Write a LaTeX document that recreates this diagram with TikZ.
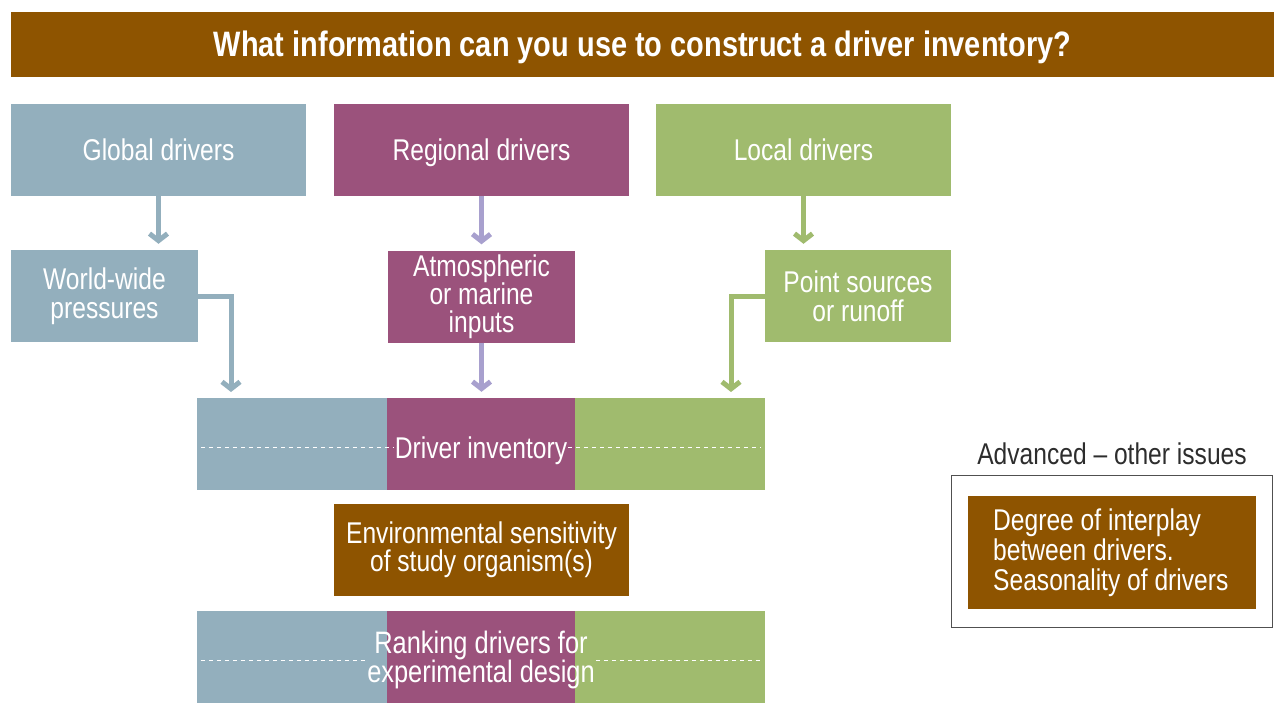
\documentclass[tikz,border=0pt]{standalone}
\usepackage{fontspec}
\setmainfont[FakeStretch=0.82]{Liberation Sans}
\usetikzlibrary{arrows.meta}
\definecolor{brn}{RGB}{142,84,0}
\definecolor{blu}{RGB}{147,175,189}
\definecolor{pur}{RGB}{155,82,124}
\definecolor{grn}{RGB}{160,187,110}
\definecolor{lav}{RGB}{168,160,206}
\definecolor{dgray}{RGB}{45,45,45}
\definecolor{bgray}{RGB}{80,80,80}
\begin{document}
\begin{tikzpicture}[x=1pt,y=-1pt,
  box/.style={fill=#1, text=white, inner sep=0pt, align=center,
    font=\fontsize{30}{30}\selectfont},
  one/.style={text height=22pt, text depth=0pt},
  bigbox/.style={box=#1, minimum width=295pt, minimum height=92pt},
  midbox/.style={box=#1, minimum width=187pt, minimum height=92pt},
  band/.style={fill=#1, inner sep=0pt, minimum height=92pt},
  lbl/.style={text=white, inner sep=1pt, align=center},
  flow/.style={draw=#1, line width=5pt, -{Straight Barb[length=7pt,width=18pt]}},
  dsh/.style={draw=white, line width=0.8pt, dash pattern=on 4pt off 4pt}
]
\useasboundingbox (0,0) rectangle (1274,722);

% title
\node[fill=brn, text=white, inner sep=0pt, minimum width=1263pt, minimum height=65pt,
  text height=25pt, text depth=0pt,
  font=\fontsize{35.3}{35}\selectfont\bfseries] (title) at (642.5,44.5)
  {What information can you use to construct a driver inventory?};

% top row
\node[bigbox=blu, one] (glob) at (158.5,150) {Global drivers};
\node[bigbox=pur, one] (reg) at (481.5,150) {Regional drivers};
\node[bigbox=grn, one] (loc) at (803.5,150) {Local drivers};

% second row
\node[midbox=blu, font=\fontsize{30}{29.5}\selectfont] (ww) at (104.5,296) {World-wide\\pressures};
\node[midbox=pur, font=\fontsize{30}{27.5}\selectfont] (atm) at (481.5,296.5) {Atmospheric\\or marine\\inputs};
\node[midbox=grn, minimum width=186pt, font=\fontsize{30}{29}\selectfont] (pt) at (858,296) {Point sources\\or runoff};

% driver inventory band
\node[band=blu, minimum width=190pt] (inv1) at (292,444) {};
\node[band=pur, minimum width=188pt] (inv2) at (481,444) {};
\node[band=grn, minimum width=190pt] (inv3) at (670,444) {};
\node[lbl, font=\fontsize{30}{30}\selectfont, text height=22pt, text depth=0pt] (invtxt) at (481,447) {Driver inventory};
\draw[dsh] ([xshift=4pt]inv1.west |- invtxt.center) -- (invtxt.west);
\draw[dsh] (invtxt.east) -- ([xshift=-4pt]inv3.east |- invtxt.center);

% environmental sensitivity
\node[bigbox=brn, font=\fontsize{30}{28}\selectfont] (env) at (481.5,550) {Environmental sensitivity\\of study organism(s)};

% ranking band
\node[band=blu, minimum width=190pt] (rk1) at (292,657) {};
\node[band=pur, minimum width=188pt] (rk2) at (481,657) {};
\node[band=grn, minimum width=190pt] (rk3) at (670,657) {};
\node[lbl, inner sep=0pt, font=\fontsize{31}{29}\selectfont] (rktxt) at (481,660) {Ranking drivers for\\experimental design};
\draw[dsh] ([xshift=4pt]rk1.west |- rktxt.center) -- ([xshift=-1pt]rktxt.west);
\draw[dsh] ([xshift=1pt]rktxt.east) -- ([xshift=-4pt]rk3.east |- rktxt.center);

% arrows
\coordinate (wwin) at (231,398);
\coordinate (ptin) at (731,398);
\draw[flow=blu, shorten >=6pt] (glob.south) -- (glob.south |- ww.north);
\draw[flow=lav, shorten >=6pt] (reg.south) -- (reg.south |- atm.north);
\draw[flow=grn, shorten >=6pt] (loc.south) -- (loc.south |- pt.north);
\draw[flow=blu, shorten >=6pt] (ww.east) -| (wwin);
\draw[flow=lav, shorten >=6pt] (atm.south) -- (atm.south |- inv2.north);
\draw[flow=grn, shorten >=6pt] (pt.west) -| (ptin);

% advanced
\node[text=dgray, inner sep=0pt, text height=22pt, text depth=0pt, font=\fontsize{30}{30}\selectfont] (advlbl) at (1112,453) {Advanced -- other issues};
\node[draw=bgray, line width=1.2pt, inner sep=0pt, minimum width=321pt, minimum height=152pt] (advbox) at (1112,551.5) {};
\node[box=brn, minimum width=288pt, minimum height=113pt] (adv) at (1112,552.5) {};
\node[text=white, inner sep=0pt, align=left, anchor=west, font=\fontsize{30}{30}\selectfont] (advtxt) at (993,553)
  {Degree of interplay\\between drivers.\\Seasonality of drivers};
\end{tikzpicture}
\end{document}
